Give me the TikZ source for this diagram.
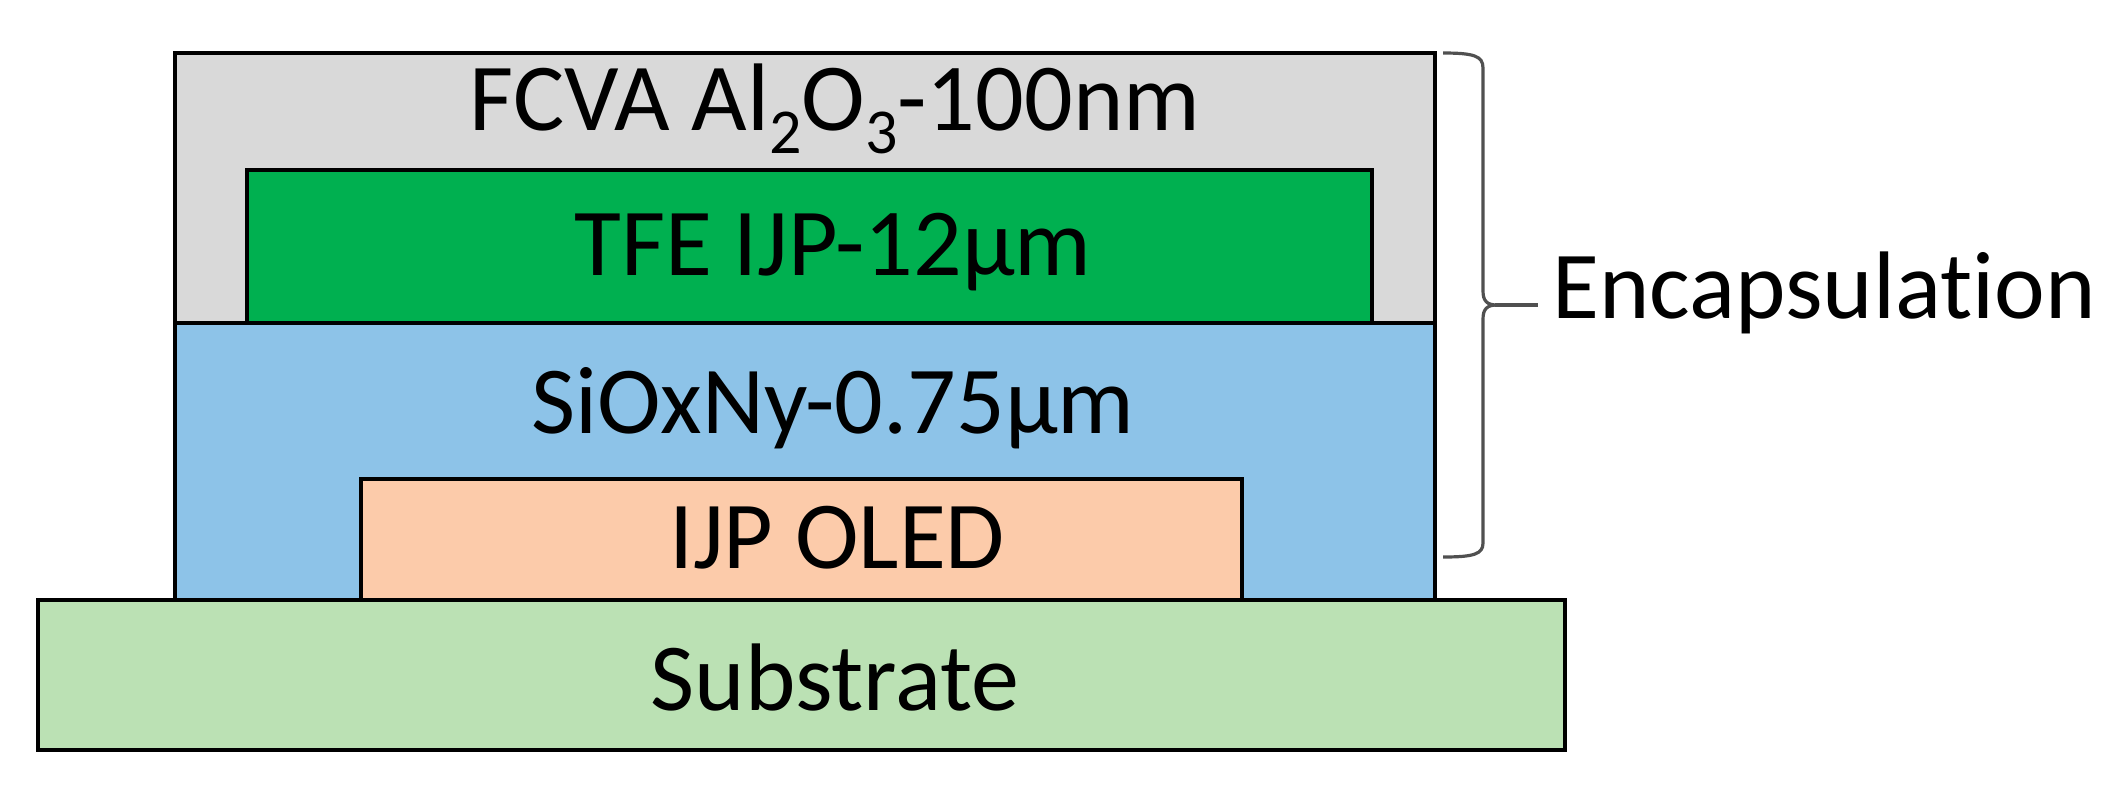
\documentclass[tikz,border=0pt]{standalone}
\usepackage{fontspec}
\setmainfont{Carlito}[Ligatures={CommonOff,ContextualOff}]
\definecolor{grayfill}{HTML}{D9D9D9}
\definecolor{greenfill}{HTML}{00B050}
\definecolor{bluefill}{HTML}{8DC3E8}
\definecolor{orangefill}{HTML}{FCCBAA}
\definecolor{subfill}{HTML}{BBE1B4}
\definecolor{bracecol}{HTML}{505050}
\newcommand{\mysub}[1]{\raisebox{-0.24em}{\fontsize{32}{32}\selectfont #1}}
\tikzset{
  layer/.style={draw=black, line width=2pt},
  lbl/.style={anchor=base, inner sep=0pt, font=\fontsize{48}{50}\selectfont},
  bracepath/.style={draw=bracecol, line width=1.6pt}
}
\begin{document}
\begin{tikzpicture}[x=0.5pt, y=-0.5pt]
\useasboundingbox (0,0) rectangle (2124,800);
% layers
\path[layer, fill=grayfill] (175,53) rectangle (1435,323);
\path[layer, fill=bluefill] (175,323) rectangle (1435,600);
\path[layer, fill=greenfill] (247,170) rectangle (1372,323);
\path[layer, fill=orangefill] (361,479) rectangle (1242,600);
\path[layer, fill=subfill] (38,600) rectangle (1565,750);
% labels
\node[lbl] (fcva) at (835,130) {FCVA Al\mysub{2}O\mysub{3}-100nm};
\node[lbl] (tfe) at (833,275) {TFE IJP-12µm};
\node[lbl] (sio) at (833,433) {SiOxNy-0.75µm};
\node[lbl] (oled) at (837,568) {IJP OLED};
\node[lbl] (sub) at (835,710) {Substrate};
\node[lbl, anchor=base west] (enc) at (1552,318) {Encapsulat\kern0pt ion};
% brace
\coordinate (btop) at (1443,53);
\coordinate (bbot) at (1443,557);
\coordinate (btip) at (1538,305);
\path[bracepath] (btop) .. controls (1474,53) and (1483,56) .. (1483,68)
  -- (1483,291) .. controls (1483,301) and (1487,305) .. (1497,305)
  .. controls (1487,305) and (1483,309) .. (1483,319)
  -- (1483,543) .. controls (1483,554) and (1474,557) .. (bbot);
\path[bracepath, line width=2.2pt] (1495,305) -- (btip);
\end{tikzpicture}
\end{document}
